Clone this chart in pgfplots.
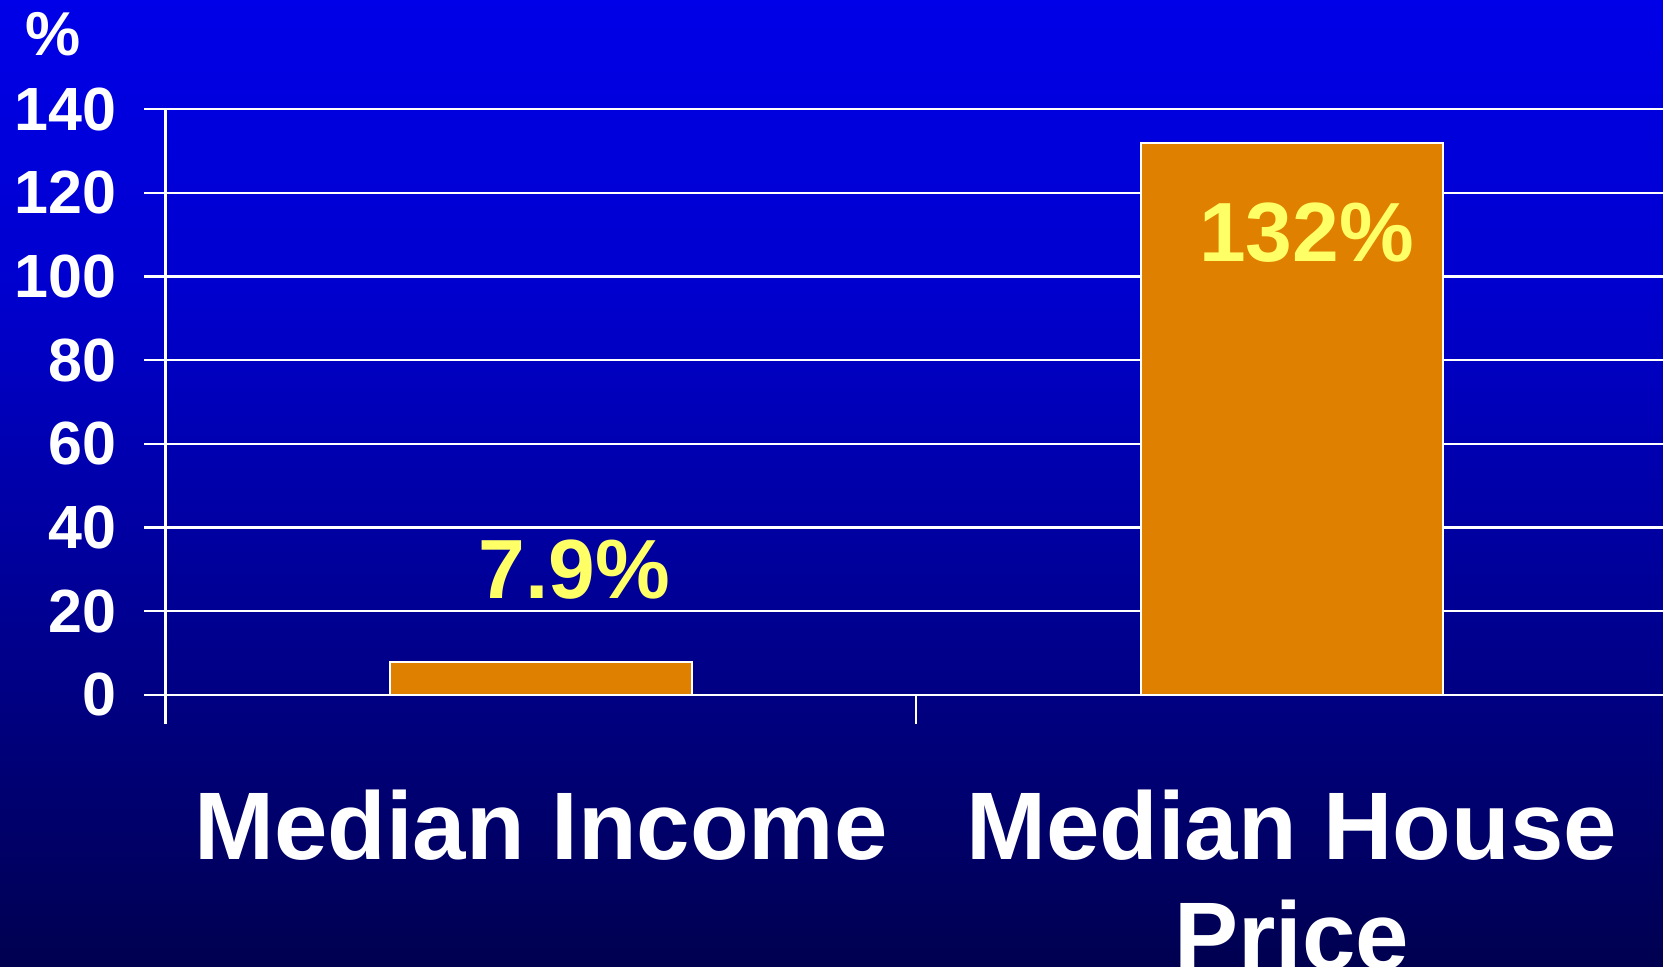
\documentclass[border=0pt]{standalone}
\usepackage{pgfplots}
\pgfplotsset{compat=1.18}
\usepackage{fontspec}
\setmainfont{Liberation Sans}

\definecolor{bgtop}{RGB}{0,0,232}
\definecolor{bgmid}{RGB}{0,0,205}
\definecolor{bgbot}{RGB}{0,0,80}
\definecolor{barorange}{RGB}{224,128,0}
\definecolor{lblyellow}{RGB}{255,255,102}
% fitted region of a declared shading is 25bp..75bp
\pgfdeclareverticalshading{slide}{100bp}{color(0bp)=(bgbot); color(25bp)=(bgbot); color(59.5bp)=(bgmid); color(75bp)=(bgtop); color(100bp)=(bgtop)}

\newcommand\fs[2]{\bfseries\fontsize{#1}{#2}\selectfont}

\begin{document}
\begin{tikzpicture}
\useasboundingbox (0,0) rectangle (831.5pt,483pt);
\shade[shading=slide] (0,0) rectangle (831.5pt,483pt);
\begin{axis}[
    at={(82.75pt,135.65pt)}, anchor=south west,
    scale only axis,
    width=750.75pt, height=292.75pt,
    xmin=-0.5, xmax=1.5,
    ymin=0, ymax=140,
    ybar, bar width=151pt,
    axis lines*=left,
    axis line style={white, line width=1.2pt},
    tick align=outside,
    tick style={white, line width=1.2pt},
    major tick length=14.5pt,
    ytick={0,20,...,140},
    ytick style={/pgfplots/major tick length=10.5pt},
    ymajorgrids,
    grid style={white, line width=1.2pt},
    xtick={-0.5,0.5,1.5},
    xticklabels={},
    extra x ticks={0,1},
    extra x tick labels={Median Income,{Median House\\Price}},
    extra x tick style={major tick length=0pt,
        tick style={draw=none},
        xticklabel style={anchor=north, inner sep=0pt, yshift=-47.5pt,
            align=center, text=white, font=\fs{48}{55}}},
    /pgf/number format/assume math mode=true,
    yticklabel style={anchor=east, inner sep=0pt, xshift=-10pt,
        text=white, font=\fs{30.5}{30.5}},
    ylabel={\%},
    ylabel style={rotate=-90, at={(axis description cs:0,1)}, anchor=base,
        xshift=-56pt, yshift=27pt, text=white, font=\fs{31}{31}},
    clip=false,
]
\addplot[fill=barorange, draw=white, line width=1pt] coordinates {(0,7.9) (1,132)};
\node[anchor=base, text=lblyellow, font=\fs{42}{42}] at (axis cs:0.045,22.9) {7.9\%};
\node[anchor=base, text=lblyellow, font=\fs{42}{42}] at (axis cs:1.02,103.5) {132\%};
\end{axis}
\end{tikzpicture}
\end{document}
